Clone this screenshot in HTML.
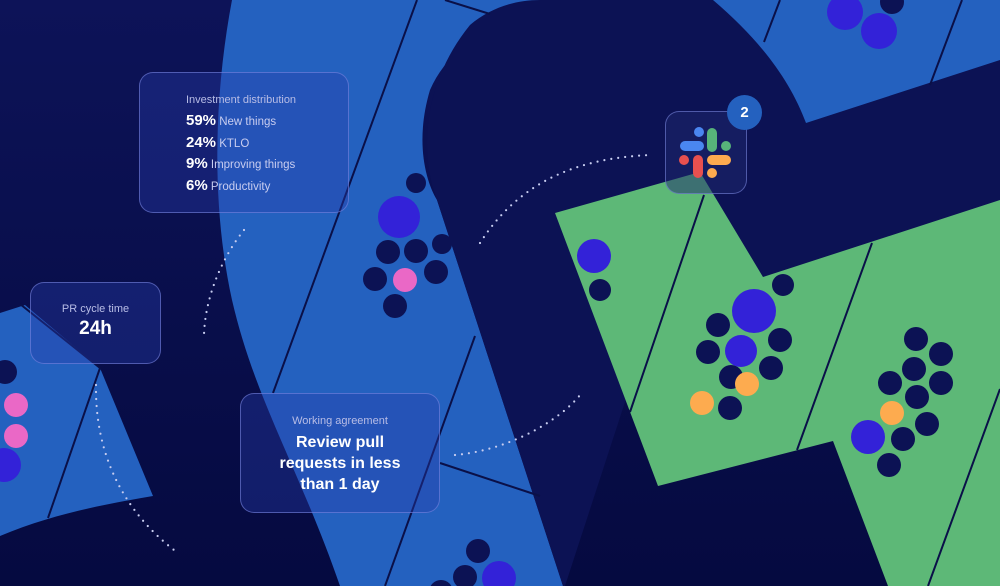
<!DOCTYPE html>
<html><head><meta charset="utf-8"><style>
html,body{margin:0;padding:0;width:1000px;height:586px;overflow:hidden;background:#0b1152}
svg{display:block}
.card{position:absolute;box-sizing:border-box;border:1.5px solid rgba(130,140,230,.55);border-radius:14px;background:rgba(40,60,170,.38);color:#fff;font-family:"Liberation Sans",sans-serif;text-align:center}
.lbl{color:#b8bde6;font-size:11px}
</style></head><body>
<div style="position:relative;width:1000px;height:586px">
<svg width="1000" height="586" viewBox="0 0 1000 586" style="position:absolute;left:0;top:0">
<defs>
<linearGradient id="bg" x1="0" y1="0" x2="0" y2="1"><stop offset="0" stop-color="#0d1358"/><stop offset="1" stop-color="#050a40"/></linearGradient>
</defs>
<rect width="1000" height="586" fill="url(#bg)"/>
<!-- blue band -->
<path d="M232,0 L720,0 L720,0 C600,0 470,0 430,90 C415,140 425,180 437,200 L563,586 L340,586 C300,470 255,400 232,300 C210,200 215,90 232,0 Z" fill="#2461bf"/>
<!-- head dark -->
<path d="M540,0 L713,0 C760,40 790,80 806,123 L1000,60 L1000,200 L763,277 L700,172 L565,586 L563,586 L437,200 C418,150 425,80 470,25 C490,8 515,0 540,0 Z" fill="#0c1254"/>
<!-- blue top right -->
<path d="M713,0 L1000,0 L1000,60 L806,123 C790,80 760,40 713,0 Z" fill="#2461bf"/>
<!-- green -->
<path d="M555,213 L700,172 L763,277 L1000,200 L1000,586 L888,586 L833,441 L658,486 Z" fill="#5db877"/>
<!-- left blue piece -->
<path d="M0,313 L25,305 L100,368 L153,496 C100,505 50,515 0,536 Z" fill="#2461bf"/>
<!-- lines -->
<g stroke="#0a1048" stroke-width="2" fill="none">
<line x1="417" y1="0" x2="273" y2="393"/>
<line x1="445" y1="0" x2="490" y2="14"/>
<line x1="475" y1="336" x2="385" y2="586"/>
<line x1="440" y1="463" x2="540" y2="496"/>
<line x1="780" y1="0" x2="764" y2="42"/>
<line x1="962" y1="0" x2="930" y2="85"/>
<line x1="704" y1="195" x2="630" y2="412"/>
<line x1="872" y1="243" x2="797" y2="450"/>
<line x1="1000" y1="389" x2="928" y2="586"/>
<line x1="100" y1="368" x2="48" y2="518"/>
<line x1="20" y1="304" x2="100" y2="368"/>
</g>
<!-- dots -->
<g fill="#0c1254">
<circle cx="416" cy="183" r="10"/><circle cx="388" cy="252" r="12"/><circle cx="416" cy="251" r="12"/><circle cx="375" cy="279" r="12"/><circle cx="436" cy="272" r="12"/><circle cx="395" cy="306" r="12"/><circle cx="442" cy="244" r="10"/>
<circle cx="5" cy="372" r="12"/>
<circle cx="718" cy="325" r="12"/><circle cx="708" cy="352" r="12"/><circle cx="780" cy="340" r="12"/><circle cx="771" cy="368" r="12"/><circle cx="731" cy="377" r="12"/><circle cx="730" cy="408" r="12"/><circle cx="783" cy="285" r="11"/><circle cx="600" cy="290" r="11"/>
<circle cx="916" cy="339" r="12"/><circle cx="941" cy="354" r="12"/><circle cx="914" cy="369" r="12"/><circle cx="890" cy="383" r="12"/><circle cx="941" cy="383" r="12"/><circle cx="917" cy="397" r="12"/><circle cx="927" cy="424" r="12"/><circle cx="903" cy="439" r="12"/><circle cx="889" cy="465" r="12"/>
<circle cx="892" cy="2" r="12"/>
<circle cx="478" cy="551" r="12"/><circle cx="465" cy="577" r="12"/><circle cx="441" cy="592" r="12"/>
</g>
<g fill="#3322d8">
<circle cx="399" cy="217" r="21"/><circle cx="4" cy="465" r="17"/><circle cx="754" cy="311" r="22"/><circle cx="741" cy="351" r="16"/><circle cx="594" cy="256" r="17"/><circle cx="868" cy="437" r="17"/><circle cx="845" cy="12" r="18"/><circle cx="879" cy="31" r="18"/><circle cx="499" cy="578" r="17"/>
</g>
<g fill="#ea68c6"><circle cx="405" cy="280" r="12"/><circle cx="16" cy="405" r="12"/><circle cx="16" cy="436" r="12"/></g>
<g fill="#fdab4f"><circle cx="747" cy="384" r="12"/><circle cx="702" cy="403" r="12"/><circle cx="892" cy="413" r="12"/></g>
<!-- dotted arcs -->
<g stroke="#c8cdf0" stroke-width="2.2" stroke-linecap="round" fill="none" stroke-dasharray="0 7">
<path d="M244,230 C220,260 205,300 204,335"/>
<path d="M96,385 C95,450 120,510 178,553"/>
<path d="M480,243 C520,180 580,158 650,155"/>
<path d="M455,455 C510,450 560,420 580,395"/>
</g>
</svg>
<div class="card" style="left:139px;top:72px;width:210px;height:141px;text-align:left;padding:21px 0 0 46px">
<div class="lbl">Investment distribution</div>
<div style="margin-top:5px;line-height:20.7px;font-size:11.5px;color:#c8cdf0"><b style="font-size:15px;color:#fff">59%</b> New things<br><b style="font-size:15px;color:#fff">24%</b> KTLO<br><b style="font-size:15px;color:#fff">9%</b> Improving things<br><b style="font-size:15px;color:#fff">6%</b> Productivity</div>
</div>
<div class="card" style="left:30px;top:282px;width:131px;height:82px;padding-top:20px">
<div class="lbl">PR cycle time</div>
<div style="font-size:19px;font-weight:bold;margin-top:3px">24h</div>
</div>
<div class="card" style="left:240px;top:393px;width:200px;height:120px;padding-top:21px">
<div class="lbl">Working agreement</div>
<div style="font-size:16px;font-weight:bold;line-height:21px;margin-top:5px">Review pull<br>requests in less<br>than 1 day</div>
</div>
<div class="card" style="left:665px;top:111px;width:82px;height:83px;background:rgba(30,40,110,.5)"></div>
<svg width="1000" height="586" viewBox="0 0 1000 586" style="position:absolute;left:0;top:0" stroke-linecap="round" stroke-width="10" fill="none">
<line x1="685" y1="146" x2="699" y2="146" stroke="#4a86f0"/><line x1="699" y1="132" x2="699" y2="132" stroke="#4a86f0"/>
<line x1="712" y1="133" x2="712" y2="147" stroke="#57b37a"/><line x1="726" y1="146" x2="726" y2="146" stroke="#57b37a"/>
<line x1="712" y1="160" x2="726" y2="160" stroke="#fdab4f"/><line x1="712" y1="173" x2="712" y2="173" stroke="#fdab4f"/>
<line x1="698" y1="160" x2="698" y2="173" stroke="#e8504f"/><line x1="684" y1="160" x2="684" y2="160" stroke="#e8504f"/>
</svg>
<div style="position:absolute;left:727px;top:95px;width:35px;height:35px;border-radius:50%;background:#2461bf;color:#fff;font:bold 15px 'Liberation Sans',sans-serif;text-align:center;line-height:35px">2</div>
</div>
</body></html>
